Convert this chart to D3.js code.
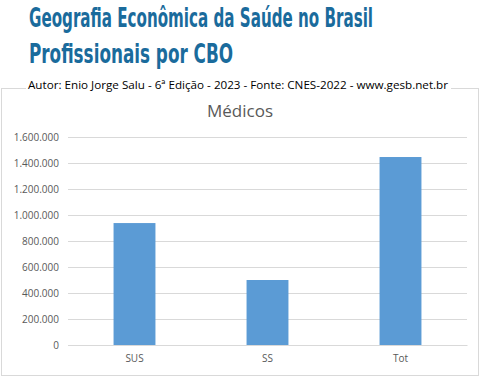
<!DOCTYPE html>
<html>
<head>
<meta charset="utf-8" />
<title>Médicos</title>
<script src="https://cdn.jsdelivr.net/npm/d3@7"></script>
<style>
  body { margin: 0; background: #fff; }
  svg { display: block; }
</style>
</head>
<body>
<script>
// dados
var categorias = ['SUS', 'SS', 'Tot'];
var valores = [938000, 500000, 1446000];
var ticks = [0, 200000, 400000, 600000, 800000, 1000000, 1200000, 1400000, 1600000];

var width = 481, height = 377;
var plot = { left: 68, right: 467, top: 137, bottom: 345 };

var svg = d3.select('body').append('svg').attr('width', width).attr('height', height);

// moldura do grafico
svg.append('rect')
  .attr('x', 1.5).attr('y', 88.5)
  .attr('width', 477).attr('height', 287)
  .attr('fill', '#fff').attr('stroke', '#d9d9d9');

// cabecalho
var azul = '#1a6b9c';
svg.append('text')
  .attr('x', 29).attr('y', 27)
  .attr('font-family', 'DejaVu Sans Condensed, DejaVu Sans')
  .attr('font-weight', 'bold').attr('font-size', 26)
  .attr('textLength', 344).attr('lengthAdjust', 'spacingAndGlyphs')
  .attr('fill', azul)
  .text('Geografia Econômica da Saúde no Brasil');
svg.append('text')
  .attr('x', 29).attr('y', 63)
  .attr('font-family', 'DejaVu Sans Condensed, DejaVu Sans')
  .attr('font-weight', 'bold').attr('font-size', 27)
  .attr('textLength', 204).attr('lengthAdjust', 'spacingAndGlyphs')
  .attr('fill', azul)
  .text('Profissionais por CBO');

svg.append('rect').attr('x', 26).attr('y', 78).attr('width', 425).attr('height', 14).attr('fill', '#fff');
svg.append('text')
  .attr('x', 28).attr('y', 89)
  .attr('font-family', 'Open Sans, sans-serif').attr('font-size', 11)
  .attr('textLength', 420).attr('lengthAdjust', 'spacingAndGlyphs')
  .attr('fill', '#000')
  .text('Autor: Enio Jorge Salu - 6ª Edição - 2023 - Fonte: CNES-2022 - www.gesb.net.br');

// titulo do grafico
svg.append('text')
  .attr('x', 240).attr('y', 117)
  .attr('text-anchor', 'middle')
  .attr('font-family', 'Open Sans, sans-serif').attr('font-size', 17)
  .attr('fill', '#595959')
  .text('Médicos');

var x = d3.scaleBand().domain(categorias).range([plot.left, plot.right]).paddingInner(0.685).paddingOuter(0.3425);
var y = d3.scaleLinear().domain([0, 1600000]).range([plot.bottom, plot.top]);

var fmt = function (d) { return d3.format(',')(d).replace(/,/g, '.'); };

var yAxis = d3.axisLeft(y).tickValues(ticks).tickSize(-(plot.right - plot.left)).tickFormat(fmt);
var gy = svg.append('g').attr('transform', 'translate(' + plot.left + ',0)').call(yAxis);
gy.select('.domain').remove();
gy.selectAll('.tick line').attr('stroke', '#d9d9d9');
gy.selectAll('.tick text')
  .attr('x', -9)
  .attr('font-family', 'Open Sans, sans-serif').attr('font-size', 10)
  .attr('fill', '#595959');

svg.selectAll('rect.barra').data(valores).enter()
  .append('rect').attr('class', 'barra')
  .attr('x', function (d, i) { return x(categorias[i]); })
  .attr('y', function (d) { return y(d); })
  .attr('width', x.bandwidth())
  .attr('height', function (d) { return plot.bottom - y(d); })
  .attr('fill', '#5b9bd5');

var xAxis = d3.axisBottom(x).tickSize(0);
var gx = svg.append('g').attr('transform', 'translate(0,' + plot.bottom + ')').call(xAxis);
gx.select('.domain').attr('stroke', '#d9d9d9');
gx.selectAll('.tick text')
  .attr('y', 10)
  .attr('font-family', 'Open Sans, sans-serif').attr('font-size', 10)
  .attr('fill', '#595959');
</script>
</body>
</html>
